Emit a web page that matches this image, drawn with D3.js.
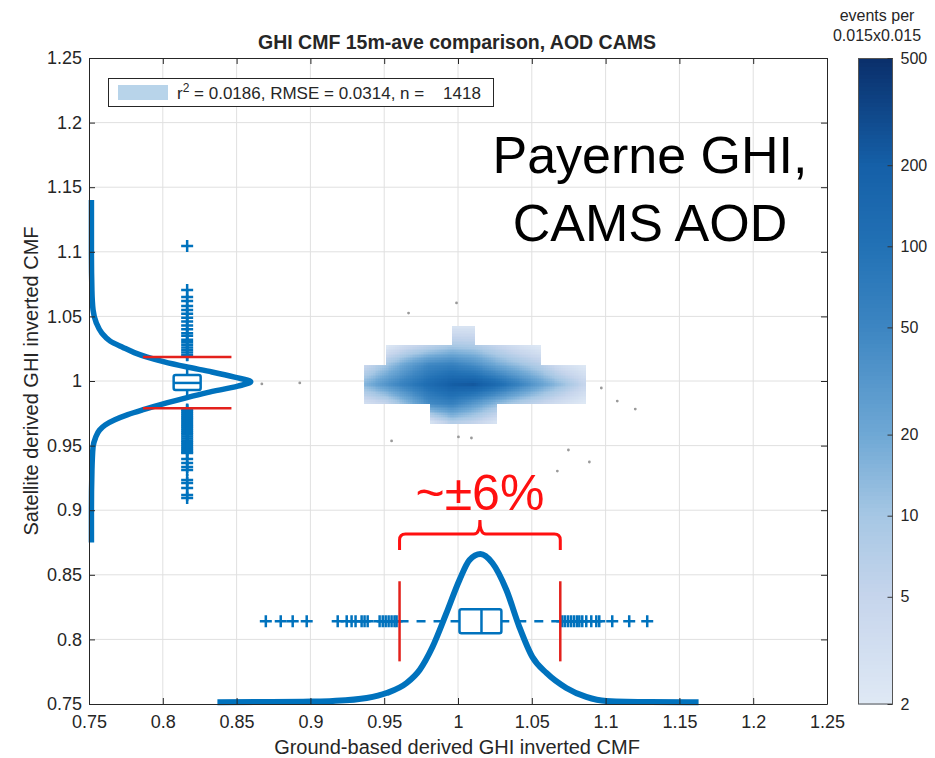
<!DOCTYPE html>
<html>
<head>
<meta charset="utf-8">
<script src="https://cdn.jsdelivr.net/npm/d3@7"></script>
<style>
  body { margin: 0; background: #fff; }
  text { font-family: Arial, "Liberation Sans", sans-serif; fill: #262626; }
</style>
</head>
<body>
<div id="app"></div>
<script>
const W = 935, H = 758
const BLUE = '#0072bd', RED = '#e3211c', ANNOT = '#ff1010'

// axes
const xTicks = [0.75, 0.8, 0.85, 0.9, 0.95, 1, 1.05, 1.1, 1.15, 1.2, 1.25]
const yTicks = [0.75, 0.8, 0.85, 0.9, 0.95, 1, 1.05, 1.1, 1.15, 1.2, 1.25]

// colorbar (events per 0.015x0.015)
const cbTicks = [2, 5, 10, 20, 50, 100, 200, 500]
const cbColors = ['#dfe9f5', '#c6d5ec', '#a6c7e4', '#6fa8d5', '#3d86c2', '#2271b5', '#1560a8', '#0a2f6b']

// 2d histogram vertices (interpolated shading), null = no data
const gridX = [0.936, 0.951, 0.966, 0.981, 0.996, 1.011, 1.026, 1.041, 1.056, 1.071, 1.086]
const gridY = [1.0425, 1.0275, 1.0125, 0.9975, 0.9825, 0.9675]
const gridCounts = [
  [null, null, null, null, 2.5, 2.5, null, null, null, null, null],
  [null, 2, 4, 6, 9, 8, 5, 3, 2, null, null],
  [4, 10, 25, 50, 60, 40, 20, 12, 7, 3, 2],
  [15, 35, 70, 130, 220, 250, 140, 60, 25, 12, 5],
  [3, 5, 15, 45, 60, 30, 14, 8, 5, 3, 2],
  [null, null, null, 2.5, 7, 5, 2.5, null, null, null, null]
]

// single events outside the histogram
const dotsX = [0.999, 0.9665, 1.0971, 1.1079, 1.1201, 1.0748, 1.089, 1.0673, 0.955, 1.0003, 1.0091, 0.8671, 0.8928]
const dotsY = [1.0604, 1.0526, 0.9946, 0.9845, 0.9783, 0.9466, 0.9373, 0.9303, 0.9536, 0.9567, 0.9559, 0.9977, 0.9985]

// marginal densities (relative)
const leftDensY = [1.14, 1.10, 1.07, 1.055, 1.045, 1.037, 1.031, 1.026, 1.022, 1.0185, 1.015, 1.011, 1.007, 1.003, 0.9995,
  0.996, 0.991, 0.987, 0.983, 0.9776, 0.974, 0.970, 0.966, 0.962, 0.956, 0.949, 0.930, 0.900, 0.875]
const leftDensV = [0.015, 0.015, 0.018, 0.025, 0.045, 0.08, 0.13, 0.21, 0.28, 0.36, 0.46, 0.60, 0.76, 0.90, 1.0,
  0.92, 0.73, 0.60, 0.48, 0.33, 0.24, 0.16, 0.10, 0.065, 0.04, 0.025, 0.018, 0.015, 0.015]
const bottomDensX = [0.837, 0.870, 0.900, 0.9151, 0.9381, 0.9516, 0.9652, 0.974, 0.9827, 0.9922, 1.001, 1.0078, 1.0152,
  1.0233, 1.0328, 1.0416, 1.0504, 1.0599, 1.0734, 1.0869, 1.1005, 1.13, 1.163]
const bottomDensV = [0.012, 0.013, 0.016, 0.02, 0.04, 0.073, 0.14, 0.227, 0.38, 0.607, 0.827, 0.96, 1.0,
  0.94, 0.76, 0.513, 0.313, 0.207, 0.107, 0.047, 0.02, 0.013, 0.012]

// box plots: [whiskerLow, q1, median, q3, whiskerHigh]
const leftBoxPos = 0.8165
const leftBoxStats = [0.979, 0.993, 0.9985, 1.0047, 1.0186]
const leftOutliers = [1.1045, 1.0704, 1.065, 1.062, 1.058, 1.055, 1.052, 1.049, 1.046, 1.043, 1.040, 1.037, 1.035, 1.032,
  1.030, 1.028, 1.026, 1.024, 1.022, 1.020, 0.978, 0.9765, 0.975, 0.9735, 0.972, 0.9705, 0.969, 0.9675, 0.966, 0.9645,
  0.963, 0.9615, 0.96, 0.9585, 0.957, 0.9555, 0.954, 0.9525, 0.951, 0.9495, 0.948, 0.9465, 0.945, 0.9443,
  0.9396, 0.9365, 0.9334, 0.9311, 0.9234, 0.9211, 0.9172, 0.9118, 0.9094]
const bottomBoxPos = 0.814
const bottomBoxStats = [0.9604, 1.001, 1.0159, 1.0294, 1.0693]
const bottomOutliers = [0.8698, 0.8799, 0.888, 0.8975, 0.9185, 0.9246, 0.9279, 0.9306, 0.9347, 0.9367, 0.9388,
  0.9469, 0.949, 0.951, 0.953, 0.955, 0.957, 0.9584, 1.0707, 1.0725, 1.0745, 1.0765, 1.0785, 1.0805, 1.0822,
  1.0842, 1.0869, 1.0903, 1.0937, 1.0957, 1.1045, 1.116, 1.1282]

const title = 'GHI CMF 15m-ave comparison, AOD CAMS'
const legendStats = ' = 0.0186, RMSE = 0.0314, n =    1418'
const siteLines = ['Payerne GHI,', 'CAMS AOD']
const spreadLabel = '~±6%'

const x = d3.scaleLinear().domain([0.75, 1.25]).range([89, 827])
const y = d3.scaleLinear().domain([0.75, 1.25]).range([704, 58])
const color = d3.scaleLog().domain(cbTicks).range(cbColors).clamp(true)
const leftDens = d3.scaleLinear().domain([0, 1]).range([0.75, 0.8596])
const bottomDens = d3.scaleLinear().domain([0, 1]).range([0.75, 0.8661])

const svg = d3.select('#app').append('svg')
  .attr('width', W).attr('height', H)

// grid
svg.append('g').selectAll('line.gx').data(xTicks.slice(1, -1)).enter().append('line')
  .attr('x1', d => x(d)).attr('x2', d => x(d)).attr('y1', y(0.75)).attr('y2', y(1.25))
  .attr('stroke', '#e0e0e0')
svg.append('g').selectAll('line.gy').data(yTicks.slice(1, -1)).enter().append('line')
  .attr('y1', d => y(d)).attr('y2', d => y(d)).attr('x1', x(0.75)).attr('x2', x(1.25))
  .attr('stroke', '#e0e0e0')

// heatmap with bilinear (log) shading
const hm = svg.append('g').attr('shape-rendering', 'crispEdges')
const SUB = 12
for (let j = 0; j < gridY.length - 1; j++) {
  for (let i = 0; i < gridX.length - 1; i++) {
    const c = [gridCounts[j][i], gridCounts[j][i + 1], gridCounts[j + 1][i], gridCounts[j + 1][i + 1]]
    if (c.some(v => v == null)) continue
    const l = c.map(Math.log)
    for (let a = 0; a < SUB; a++) {
      for (let b = 0; b < SUB; b++) {
        const u = (a + 0.5) / SUB, v = (b + 0.5) / SUB
        const val = Math.exp((1 - u) * (1 - v) * l[0] + u * (1 - v) * l[1] + (1 - u) * v * l[2] + u * v * l[3])
        const xa = gridX[i] + (gridX[i + 1] - gridX[i]) * a / SUB
        const xb = gridX[i] + (gridX[i + 1] - gridX[i]) * (a + 1) / SUB
        const ya = gridY[j] + (gridY[j + 1] - gridY[j]) * b / SUB
        const yb = gridY[j] + (gridY[j + 1] - gridY[j]) * (b + 1) / SUB
        hm.append('rect')
          .attr('x', x(xa)).attr('y', y(ya))
          .attr('width', x(xb) - x(xa) + 0.6).attr('height', y(yb) - y(ya) + 0.6)
          .attr('fill', color(val))
      }
    }
  }
}

// single events
svg.append('g').selectAll('circle').data(dotsX).enter().append('circle')
  .attr('cx', d => x(d)).attr('cy', (d, i) => y(dotsY[i])).attr('r', 1.4)
  .attr('fill', '#9a9a9a')

// marginal density curves
svg.append('path')
  .datum(leftDensY.map((d, i) => [leftDensV[i], d]))
  .attr('d', d3.line().x(d => x(leftDens(d[0]))).y(d => y(d[1])).curve(d3.curveMonotoneY))
  .attr('fill', 'none').attr('stroke', BLUE).attr('stroke-width', 5.5).attr('stroke-linejoin', 'round')
svg.append('path')
  .datum(bottomDensX.map((d, i) => [d, bottomDensV[i]]))
  .attr('d', d3.line().x(d => x(d[0])).y(d => y(bottomDens(d[1]))).curve(d3.curveMonotoneX))
  .attr('fill', 'none').attr('stroke', BLUE).attr('stroke-width', 6).attr('stroke-linejoin', 'round')

const plus = 'M-6,0H6M0,-6V6'

// left (vertical) box plot
const lb = svg.append('g')
const lbx = x(leftBoxPos)
lb.selectAll('path.o').data(leftOutliers).enter().append('path')
  .attr('d', plus).attr('transform', d => `translate(${lbx},${y(d)})`)
  .attr('stroke', BLUE).attr('stroke-width', 2.5)
lb.append('line').attr('x1', lbx).attr('x2', lbx).attr('y1', y(leftBoxStats[3])).attr('y2', y(leftBoxStats[4]))
  .attr('stroke', BLUE).attr('stroke-width', 2.5).attr('stroke-dasharray', '8,6')
lb.append('line').attr('x1', lbx).attr('x2', lbx).attr('y1', y(leftBoxStats[1])).attr('y2', y(leftBoxStats[0]))
  .attr('stroke', BLUE).attr('stroke-width', 2.5).attr('stroke-dasharray', '8,6')
lb.append('rect').attr('x', lbx - 13.5).attr('width', 27)
  .attr('y', y(leftBoxStats[3])).attr('height', y(leftBoxStats[1]) - y(leftBoxStats[3]))
  .attr('fill', '#fff').attr('stroke', BLUE).attr('stroke-width', 2.5).attr('rx', 2)
lb.append('line').attr('x1', lbx - 13.5).attr('x2', lbx + 13.5)
  .attr('y1', y(leftBoxStats[2])).attr('y2', y(leftBoxStats[2]))
  .attr('stroke', BLUE).attr('stroke-width', 2.5)
lb.selectAll('line.r').data([leftBoxStats[0], leftBoxStats[4]]).enter().append('line')
  .attr('x1', x(leftBoxPos - 0.03)).attr('x2', x(leftBoxPos + 0.03))
  .attr('y1', d => y(d)).attr('y2', d => y(d))
  .attr('stroke', RED).attr('stroke-width', 2.5)

// bottom (horizontal) box plot
const bb = svg.append('g')
const bby = y(bottomBoxPos)
bb.append('line').attr('y1', bby).attr('y2', bby).attr('x1', x(bottomBoxStats[0])).attr('x2', x(bottomBoxStats[1]))
  .attr('stroke', BLUE).attr('stroke-width', 2.5).attr('stroke-dasharray', '9,8')
bb.append('line').attr('y1', bby).attr('y2', bby).attr('x1', x(bottomBoxStats[4])).attr('x2', x(bottomBoxStats[3]))
  .attr('stroke', BLUE).attr('stroke-width', 2.5).attr('stroke-dasharray', '9,8')
bb.selectAll('path.o').data(bottomOutliers).enter().append('path')
  .attr('d', plus).attr('transform', d => `translate(${x(d)},${bby})`)
  .attr('stroke', BLUE).attr('stroke-width', 2.5)
bb.append('rect').attr('y', bby - 12).attr('height', 24)
  .attr('x', x(bottomBoxStats[1])).attr('width', x(bottomBoxStats[3]) - x(bottomBoxStats[1]))
  .attr('fill', 'none').attr('stroke', BLUE).attr('stroke-width', 2.5).attr('rx', 2)
bb.append('line').attr('y1', bby - 12).attr('y2', bby + 12)
  .attr('x1', x(bottomBoxStats[2])).attr('x2', x(bottomBoxStats[2]))
  .attr('stroke', BLUE).attr('stroke-width', 2.5)
bb.selectAll('line.r').data([bottomBoxStats[0], bottomBoxStats[4]]).enter().append('line')
  .attr('y1', y(bottomBoxPos - 0.031)).attr('y2', y(bottomBoxPos + 0.031))
  .attr('x1', d => x(d)).attr('x2', d => x(d))
  .attr('stroke', RED).attr('stroke-width', 2.5)

// axes (ticks inward on all sides)
const fmt = d3.format('')
svg.append('g').attr('transform', `translate(0,${y(0.75)})`)
  .call(d3.axisBottom(x).tickValues(xTicks).tickFormat(fmt).tickSizeInner(-6).tickSizeOuter(0).tickPadding(11))
svg.append('g').attr('transform', `translate(${x(0.75)},0)`)
  .call(d3.axisLeft(y).tickValues(yTicks).tickFormat(fmt).tickSizeInner(-6).tickSizeOuter(0).tickPadding(7))
svg.append('g').attr('transform', `translate(0,${y(1.25)})`)
  .call(d3.axisTop(x).tickValues(xTicks).tickFormat('').tickSizeInner(-6).tickSizeOuter(0))
svg.append('g').attr('transform', `translate(${x(1.25)},0)`)
  .call(d3.axisRight(y).tickValues(yTicks).tickFormat('').tickSizeInner(-6).tickSizeOuter(0))
svg.selectAll('.domain, .tick line').attr('stroke', '#262626')
svg.selectAll('.tick text').style('font-size', '18px').attr('fill', '#262626')

// labels
svg.append('text').attr('x', 457).attr('y', 49).attr('text-anchor', 'middle')
  .style('font-size', '19.5px').style('font-weight', 'bold').text(title)
svg.append('text').attr('x', 457).attr('y', 754).attr('text-anchor', 'middle')
  .style('font-size', '20px').text('Ground-based derived GHI inverted CMF')
svg.append('text').attr('transform', 'translate(38,381) rotate(-90)').attr('text-anchor', 'middle')
  .style('font-size', '20px').text('Satellite derived GHI inverted CMF')

// legend
const lg = svg.append('g')
lg.append('rect').attr('x', 108.5).attr('y', 78.5).attr('width', 385).attr('height', 28)
  .attr('fill', '#fff').attr('stroke', '#262626')
lg.append('rect').attr('x', 118).attr('y', 85).attr('width', 50).attr('height', 15).attr('fill', '#b8d4ea')
const lt = lg.append('text').attr('x', 177).attr('y', 99).style('font-size', '17px')
lt.append('tspan').text('r')
lt.append('tspan').attr('dy', -7).style('font-size', '12px').text('2')
lt.append('tspan').attr('dy', 7).style('white-space', 'pre').attr('xml:space', 'preserve').text(legendStats)

// site annotation
svg.append('text').attr('text-anchor', 'middle').style('font-size', '52px').attr('fill', '#000')
  .selectAll('tspan').data(siteLines).enter().append('tspan')
  .attr('x', 650).attr('y', (d, i) => 173 + i * 68).style('fill', '#000').text(d => d)

// spread annotation (brace between the whisker ends)
const bl = x(bottomBoxStats[0]), br = x(bottomBoxStats[4]), bm = (bl + br) / 2
const by = y(0.8816), bend = y(0.8692), btip = y(0.8925)
svg.append('path')
  .attr('d', `M${bl},${bend}V${by + 6}Q${bl},${by} ${bl + 6},${by}H${bm - 6}Q${bm},${by} ${bm},${btip}` +
    `Q${bm},${by} ${bm + 6},${by}H${br - 6}Q${br},${by} ${br},${by + 6}V${bend}`)
  .attr('fill', 'none').attr('stroke', ANNOT).attr('stroke-width', 3)
svg.append('text').attr('x', bm).attr('y', y(0.9)).attr('text-anchor', 'middle')
  .style('font-size', '50px').style('fill', ANNOT).text(spreadLabel)

// colorbar
const cy = d3.scaleLog().domain([2, 500]).range([704, 58])
const cb = svg.append('g').attr('shape-rendering', 'crispEdges')
const steps = d3.range(0, 161)
cb.selectAll('rect').data(steps).enter().append('rect')
  .attr('x', 858).attr('width', 35)
  .attr('y', d => cy(2 * Math.pow(250, (d + 1) / 161)))
  .attr('height', d => cy(2 * Math.pow(250, d / 161)) - cy(2 * Math.pow(250, (d + 1) / 161)) + 0.8)
  .attr('fill', d => color(2 * Math.pow(250, (d + 0.5) / 161)))
svg.append('rect').attr('x', 858.5).attr('y', 58.5).attr('width', 34).attr('height', 645.5)
  .attr('fill', 'none').attr('stroke', '#555')
const cax = svg.append('g').attr('transform', 'translate(892.5,0)')
  .call(d3.axisRight(cy).tickValues(cbTicks).tickFormat(fmt).tickSizeInner(-5).tickSizeOuter(0).tickPadding(8))
cax.select('.domain').remove()
cax.selectAll('.tick line').attr('stroke', '#333')
cax.selectAll('.tick text').style('font-size', '16px').attr('fill', '#262626')
svg.append('text').attr('x', 877).attr('y', 21).attr('text-anchor', 'middle').style('font-size', '16px').text('events per')
svg.append('text').attr('x', 877).attr('y', 41).attr('text-anchor', 'middle').style('font-size', '16px').text('0.015x0.015')
</script>
</body>
</html>
